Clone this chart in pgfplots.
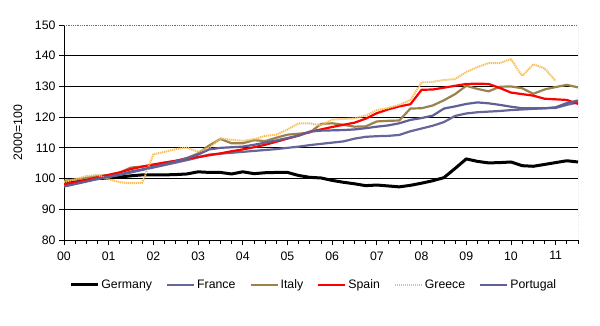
\documentclass[border=0pt]{standalone}
\usepackage{fontspec}
\setmainfont{Liberation Sans}
\usepackage{pgfplots}
\pgfplotsset{compat=1.18}
\definecolor{frc}{RGB}{102,102,153}
\definecolor{ptc}{RGB}{96,96,150}
\definecolor{itc}{RGB}{155,130,75}
\definecolor{grc}{RGB}{245,190,90}
\definecolor{esc}{RGB}{255,0,0}
\begin{document}
\begin{tikzpicture}[x=1bp,y=1bp]
\path[use as bounding box] (0,0) rectangle (600,325);
\begin{axis}[
  at={(64bp,85bp)}, anchor=south west,
  scale only axis, width=514bp, height=215bp,
  xmin=0, xmax=11.5, ymin=80, ymax=150,
  ytick={80,90,...,140},
  extra y ticks={150},
  extra y tick style={grid=none},
  xtick={0,1,...,11},
  xticklabels={00,01,02,03,04,05,06,07,08,09,10,11},
  minor xtick={0,0.25,...,11.5},
  tick pos=left,
  tick align=outside,
  major tick length=5bp, minor tick length=4bp,
  every tick/.style={black, line width=0.8bp},
  ymajorgrids,
  grid style={black, line width=0.9bp},
  axis line style={draw=none},
  /pgf/number format/assume math mode=true,
  tick label style={font=\fontsize{12.3bp}{14bp}\selectfont},
  xticklabel style={yshift=-3bp},
  ylabel={2000=100},
  ylabel style={font=\fontsize{12.3bp}{14bp}\selectfont, at={(axis description cs:-0.0895,0.5)}, anchor=center},
  legend columns=6,
  legend style={draw=none, fill=none, at={(axis description cs:0.486,-0.209)}, anchor=center,
    font=\fontsize{12.3bp}{14bp}\selectfont, inner sep=0pt,
    /tikz/every even column/.append style={column sep=12bp}},
  legend image code/.code={\draw[#1] (0bp,0bp) -- (27bp,0bp);},
  every axis plot/.append style={line join=round},
]
\draw[black, line width=1bp] (rel axis cs:0,1) -- (rel axis cs:0,0) -- (rel axis cs:1,0);
\draw[frc, line width=0.8bp, densely dotted] (rel axis cs:0,1) -- (rel axis cs:1,1) -- (rel axis cs:1,0);

\addplot[black, line width=3bp] coordinates {
(0,98.5) (0.25,99.2) (0.5,99.7) (0.75,100.0) (1,100.2) (1.25,100.5) (1.5,100.9) (1.75,101.2)
(2,101.2) (2.25,101.2) (2.5,101.3) (2.75,101.5) (3,102.2) (3.25,102.0) (3.5,102.0) (3.75,101.5)
(4,102.2) (4.25,101.6) (4.5,101.9) (4.75,102.0) (5,102.0) (5.25,101.0) (5.5,100.4) (5.75,100.2)
(6,99.4) (6.25,98.8) (6.5,98.3) (6.75,97.7) (7,97.9) (7.25,97.6) (7.5,97.3) (7.75,97.8)
(8,98.5) (8.25,99.3) (8.5,100.3) (8.75,103.3) (9,106.4) (9.25,105.6) (9.5,105.1) (9.75,105.2)
(10,105.4) (10.25,104.2) (10.5,104.0) (10.75,104.6) (11,105.2) (11.25,105.8) (11.5,105.4)};
\addlegendentry{Germany}

\addplot[frc, line width=2.2bp] coordinates {
(0,97.8) (0.25,98.5) (0.5,99.2) (0.75,99.9) (1,100.5) (1.25,101.2) (1.5,102.0) (1.75,102.8)
(2,103.6) (2.25,104.4) (2.5,105.2) (2.75,106.0) (3,106.9) (3.25,107.8) (3.5,108.1) (3.75,108.4)
(4,108.7) (4.25,109.0) (4.5,109.3) (4.75,109.6) (5,110.0) (5.25,110.4) (5.5,110.9) (5.75,111.3)
(6,111.7) (6.25,112.1) (6.5,113.0) (6.75,113.6) (7,113.8) (7.25,113.9) (7.5,114.2) (7.75,115.4)
(8,116.3) (8.25,117.2) (8.5,118.4) (8.75,120.4) (9,121.2) (9.25,121.6) (9.5,121.8) (9.75,122.0)
(10,122.3) (10.25,122.5) (10.5,122.7) (10.75,122.9) (11,123.0) (11.25,124.0) (11.5,124.8)};
\addlegendentry{France}

\addplot[itc, line width=2.2bp] coordinates {
(0,99.3) (0.25,99.6) (0.5,100.2) (0.75,100.8) (1,101.2) (1.25,102.0) (1.5,103.6) (1.75,103.9)
(2,104.3) (2.25,105.2) (2.5,105.7) (2.75,106.7) (3,108.2) (3.25,110.8) (3.5,112.9) (3.75,111.5)
(4,111.5) (4.25,112.5) (4.5,112.2) (4.75,113.3) (5,114.3) (5.25,114.6) (5.5,115.0) (5.75,117.8)
(6,118.0) (6.25,117.5) (6.5,116.9) (6.75,117.0) (7,118.6) (7.25,118.8) (7.5,118.9) (7.75,122.8)
(8,122.9) (8.25,123.8) (8.5,125.5) (8.75,127.5) (9,130.2) (9.25,129.2) (9.5,128.4) (9.75,129.9)
(10,130.0) (10.25,129.4) (10.5,127.6) (10.75,129.0) (11,129.8) (11.25,130.5) (11.5,129.7)};
\addlegendentry{Italy}

\addplot[esc, line width=2.2bp] coordinates {
(0,98.2) (0.25,98.8) (0.5,99.5) (0.75,100.4) (1,101.2) (1.25,102.0) (1.5,103.1) (1.75,103.9)
(2,104.6) (2.25,105.2) (2.5,105.8) (2.75,106.5) (3,107.0) (3.25,107.6) (3.5,108.2) (3.75,108.9)
(4,109.5) (4.25,110.2) (4.5,111.0) (4.75,112.0) (5,113.0) (5.25,114.0) (5.5,115.2) (5.75,116.0)
(6,116.8) (6.25,117.5) (6.5,118.2) (6.75,119.5) (7,121.3) (7.25,122.5) (7.5,123.5) (7.75,124.2)
(8,128.9) (8.25,129.0) (8.5,129.6) (8.75,130.2) (9,130.8) (9.25,130.9) (9.5,130.8) (9.75,129.5)
(10,128.0) (10.25,127.5) (10.5,127.0) (10.75,126.0) (11,125.8) (11.25,125.6) (11.5,124.3)};
\addlegendentry{Spain}

\addplot[grc, line width=2bp, dash pattern=on 1.2bp off 0.8bp] coordinates {
(0,98.8) (0.25,99.8) (0.5,100.8) (0.75,101.2) (1,99.8) (1.25,98.8) (1.5,98.5) (1.75,98.6)
(2,107.9) (2.25,108.7) (2.5,109.6) (2.75,110.1) (3,108.7) (3.25,110.0) (3.5,113.1) (3.75,112.6)
(4,112.3) (4.25,112.8) (4.5,113.9) (4.75,114.3) (5,116.0) (5.25,118.0) (5.5,118.0) (5.75,117.3)
(6,119.2) (6.25,119.4) (6.5,119.6) (6.75,120.5) (7,122.3) (7.25,123.0) (7.5,124.0) (7.75,125.6)
(8,131.3) (8.25,131.5) (8.5,132.1) (8.75,132.4) (9,134.7) (9.25,136.3) (9.5,137.6) (9.75,137.6)
(10,138.9) (10.25,133.4) (10.5,137.2) (10.75,135.9) (11,131.8)};
\addlegendentry{Greece}

\addplot[ptc, line width=2.2bp] coordinates {
(0,97.4) (0.25,98.2) (0.5,99.0) (0.75,99.9) (1,100.6) (1.25,101.3) (1.5,102.3) (1.75,103.0)
(2,103.8) (2.25,104.6) (2.5,105.6) (2.75,106.6) (3,107.8) (3.25,109.5) (3.5,110.0) (3.75,110.2)
(4,110.4) (4.25,111.0) (4.5,111.7) (4.75,112.4) (5,113.2) (5.25,114.0) (5.5,115.3) (5.75,115.6)
(6,115.7) (6.25,115.8) (6.5,116.0) (6.75,116.4) (7,116.9) (7.25,117.3) (7.5,118.0) (7.75,119.1)
(8,119.7) (8.25,120.5) (8.5,122.8) (8.75,123.5) (9,124.3) (9.25,124.8) (9.5,124.5) (9.75,124.0)
(10,123.4) (10.25,122.9) (10.5,122.9) (10.75,122.9) (11,123.2) (11.25,124.6) (11.5,125.4)};
\addlegendentry{Portugal}
\end{axis}
\end{tikzpicture}
\end{document}
